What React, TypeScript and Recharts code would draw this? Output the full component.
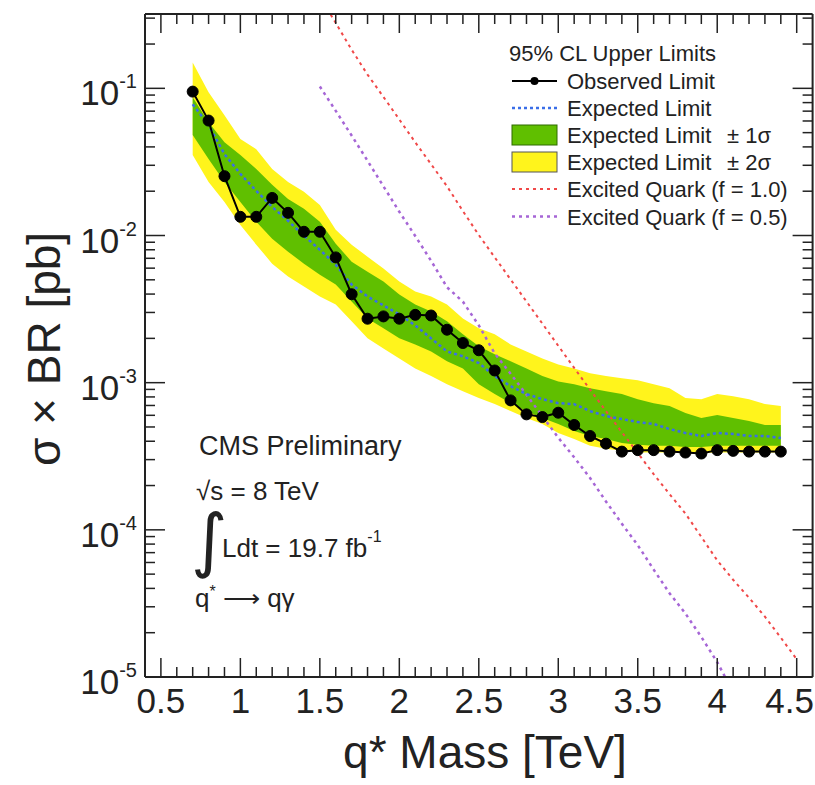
import { Area, ComposedChart, Line, XAxis, YAxis } from "recharts";

// q* mass points (TeV) for the limit curves
const massPoints = [
  0.7, 0.8, 0.9, 1.0, 1.1, 1.2, 1.3, 1.4, 1.5, 1.6, 1.7, 1.8, 1.9, 2.0, 2.1, 2.2, 2.3, 2.4, 2.5,
  2.6, 2.7, 2.8, 2.9, 3.0, 3.1, 3.2, 3.3, 3.4, 3.5, 3.6, 3.7, 3.8, 3.9, 4.0, 4.1, 4.2, 4.3, 4.4,
];
const observed = [
  0.095, 0.0604, 0.0253, 0.0134, 0.0134, 0.018, 0.01426, 0.0106, 0.0106, 0.0071, 0.00399, 0.00272,
  0.00282, 0.00272, 0.00289, 0.00286, 0.00229, 0.00186, 0.00166, 0.00121, 0.000758, 0.000609,
  0.000584, 0.000625, 0.000516, 0.000434, 0.000385, 0.00034, 0.000348, 0.000348, 0.00034, 0.000335,
  0.00033, 0.000348, 0.000344, 0.00034, 0.00034, 0.00034,
];
const expected = [
  0.0779, 0.0562, 0.0357, 0.0262, 0.0201, 0.01565, 0.0126, 0.00996, 0.008, 0.00634, 0.00464, 0.00385,
  0.00335, 0.00291, 0.00245, 0.002, 0.00163, 0.00151, 0.00136, 0.00111, 0.000947, 0.000836, 0.000773,
  0.000726, 0.000715, 0.000641, 0.000593, 0.000566, 0.00054, 0.000524, 0.000484, 0.000455, 0.000434,
  0.000455, 0.000448, 0.000434, 0.000434, 0.000421,
];
const oneSigmaUp = [
  0.0869, 0.0589, 0.0431, 0.0352, 0.0283, 0.0221, 0.0177, 0.0152, 0.0124, 0.0088, 0.00664, 0.00568,
  0.00486, 0.00397, 0.0034, 0.00305, 0.00261, 0.00213, 0.00177, 0.00156, 0.0014, 0.00125, 0.00111,
  0.00102, 0.000977, 0.000918, 0.000876, 0.000836, 0.000773, 0.000726, 0.000693, 0.000622, 0.000575,
  0.000603, 0.000575, 0.000549, 0.000516, 0.000516,
];
const oneSigmaDown = [
  0.0481, 0.0331, 0.0231, 0.0169, 0.0124, 0.0095, 0.00776, 0.00644, 0.00542, 0.00464, 0.00356, 0.00273,
  0.00234, 0.002, 0.00182, 0.00163, 0.0014, 0.00125, 0.000977, 0.000836, 0.000726, 0.000641, 0.000575,
  0.000524, 0.00047, 0.000434, 0.000414, 0.000389, 0.000378, 0.000372, 0.000372, 0.000366, 0.000366,
  0.000372, 0.000372, 0.000372, 0.000372, 0.000372,
];
const twoSigmaUp = [
  0.15, 0.094, 0.0657, 0.0452, 0.0386, 0.0283, 0.0231, 0.0198, 0.0161, 0.01094, 0.00866, 0.00718,
  0.00596, 0.00486, 0.00416, 0.00385, 0.0034, 0.00273, 0.00234, 0.00213, 0.00182, 0.00163, 0.00146,
  0.00133, 0.00125, 0.00116, 0.00111, 0.00107, 0.00104, 0.000977, 0.000918, 0.000786, 0.000773,
  0.000836, 0.00081, 0.000773, 0.000715, 0.000693,
];
const twoSigmaDown = [
  0.0352, 0.0231, 0.0169, 0.0118, 0.00866, 0.00644, 0.00526, 0.0045, 0.00385, 0.0034, 0.00261, 0.002,
  0.00171, 0.00146, 0.00125, 0.00111, 0.000977, 0.000876, 0.000786, 0.000715, 0.000641, 0.000575,
  0.000524, 0.000455, 0.000414, 0.000372, 0.000355, 0.000344, 0.000336, 0.000336, 0.000336, 0.000333,
  0.000333, 0.000336, 0.000336, 0.000336, 0.000336, 0.000336,
];

// excited quark theory curves
const theoryMassF10 = [
  1.5, 1.6, 1.7, 1.8, 1.9, 2.0, 2.1, 2.2, 2.3, 2.4, 2.5, 2.6, 2.7, 2.8, 2.9, 3.0, 3.1, 3.2, 3.3, 3.4,
  3.5, 3.6, 3.7, 3.8, 3.9, 4.0, 4.1, 4.2, 4.3, 4.4, 4.5,
];
const theoryF10 = [
  0.42, 0.278, 0.183, 0.124, 0.0875, 0.0614, 0.043, 0.0305, 0.0216, 0.01466, 0.01007, 0.00711, 0.00503,
  0.00356, 0.00252, 0.00178, 0.00126, 0.000897, 0.000641, 0.000461, 0.000333, 0.000239, 0.000175,
  0.000129, 0.0000895, 0.000062, 0.0000458, 0.0000346, 0.0000257, 0.0000185, 0.0000132,
];
const theoryMassF05 = [
  1.5, 1.6, 1.7, 1.8, 1.9, 2.0, 2.1, 2.2, 2.3, 2.4, 2.5, 2.6, 2.7, 2.8, 2.9, 3.0, 3.1, 3.2, 3.3, 3.4,
  3.5, 3.6, 3.7, 3.8, 3.9, 4.0, 4.1,
];
const theoryF05 = [
  0.103, 0.0703, 0.0478, 0.0322, 0.0216, 0.0145, 0.00993, 0.00673, 0.00445, 0.00355, 0.00245, 0.00158,
  0.00115, 0.000828, 0.000592, 0.000423, 0.000311, 0.000225, 0.000156, 0.00011, 0.0000787, 0.0000537,
  0.0000371, 0.000027, 0.0000187, 0.0000126, 0.0000079,
];

// axis ticks
const xTicks = [
  0.5, 0.6, 0.7, 0.8, 0.9, 1.0, 1.1, 1.2, 1.3, 1.4, 1.5, 1.6, 1.7, 1.8, 1.9, 2.0, 2.1, 2.2, 2.3, 2.4,
  2.5, 2.6, 2.7, 2.8, 2.9, 3.0, 3.1, 3.2, 3.3, 3.4, 3.5, 3.6, 3.7, 3.8, 3.9, 4.0, 4.1, 4.2, 4.3, 4.4, 4.5,
];
const yTicks = [
  1e-5, 2e-5, 3e-5, 4e-5, 5e-5, 6e-5, 7e-5, 8e-5, 9e-5,
  1e-4, 2e-4, 3e-4, 4e-4, 5e-4, 6e-4, 7e-4, 8e-4, 9e-4,
  1e-3, 2e-3, 3e-3, 4e-3, 5e-3, 6e-3, 7e-3, 8e-3, 9e-3,
  1e-2, 2e-2, 3e-2, 4e-2, 5e-2, 6e-2, 7e-2, 8e-2, 9e-2,
  1e-1, 2e-1, 3e-1,
];

const limitRows = massPoints.map((m, i) => ({
  mass: m,
  observed: observed[i],
  expected: expected[i],
  band1: [oneSigmaDown[i], oneSigmaUp[i]],
  band2: [twoSigmaDown[i], twoSigmaUp[i]],
}));
const f10Rows = theoryMassF10.map((m, i) => ({ mass: m, xs: theoryF10[i] }));
const f05Rows = theoryMassF05.map((m, i) => ({ mass: m, xs: theoryF05[i] }));

const FONT = "'Liberation Sans', Arial, Helvetica, sans-serif";
const FRAME = "#222";
const TEXT = "#222";

const isHalf = (v: number) => Math.abs(v * 2 - Math.round(v * 2)) < 1e-6;
const decadeOf = (v: number) => {
  const e = Math.round(Math.log10(v));
  return Math.abs(v - Math.pow(10, e)) / v < 1e-6 ? e : null;
};

function BottomTick(props: any) {
  const { x, y, payload } = props;
  const major = isHalf(payload.value);
  // last label would run past the page edge, keep it inside
  const last = payload.value >= 4.5;
  return (
    <g>
      <line x1={x} x2={x} y1={y} y2={y - (major ? 19 : 10)} stroke={FRAME} strokeWidth={1.5} />
      {major && (
        <text
          x={last ? 814 : x}
          y={y + 36}
          textAnchor={last ? "end" : "middle"}
          fontSize={35}
          fontFamily={FONT}
          fill={TEXT}
        >
          {String(payload.value)}
        </text>
      )}
    </g>
  );
}

function TopTick(props: any) {
  const { x, y, payload } = props;
  const major = isHalf(payload.value);
  return <line x1={x} x2={x} y1={y} y2={y + (major ? 19 : 10)} stroke={FRAME} strokeWidth={1.5} />;
}

function LeftTick(props: any) {
  const { x, y, payload } = props;
  const exp = decadeOf(payload.value);
  return (
    <g>
      <line x1={x} x2={x + (exp !== null ? 20 : 10)} y1={y} y2={y} stroke={FRAME} strokeWidth={1.5} />
      {exp !== null && (
        <text x={x - 8} y={y + 17} textAnchor="end" fontFamily={FONT} fill={TEXT} fontSize={35}>
          <tspan>10</tspan>
          <tspan dy={-17} fontSize={20}>
            {String(exp)}
          </tspan>
        </text>
      )}
    </g>
  );
}

function RightTick(props: any) {
  const { x, y, payload } = props;
  const exp = decadeOf(payload.value);
  return <line x1={x} x2={x - (exp !== null ? 20 : 10)} y1={y} y2={y} stroke={FRAME} strokeWidth={1.5} />;
}

function Overlay() {
  const lx1 = 512;
  const lx2 = 557;
  const tx = 567;
  const rows = [81, 108, 135, 162, 189, 216.5];
  return (
    <svg
      width={815}
      height={785}
      style={{ position: "absolute", left: 0, top: 0, pointerEvents: "none" }}
      fontFamily={FONT}
      fill={TEXT}
    >
      {/* legend */}
      <text x={509} y={61} fontSize={22}>95% CL Upper Limits</text>
      <line x1={lx1} x2={lx2} y1={rows[0]} y2={rows[0]} stroke="#000" strokeWidth={2} />
      <circle cx={(lx1 + lx2) / 2} cy={rows[0]} r={4} fill="#000" />
      <text x={tx} y={rows[0] + 8} fontSize={22}>Observed Limit</text>
      <line x1={lx1} x2={lx2} y1={rows[1]} y2={rows[1]} stroke="#3a6ee8" strokeWidth={2.5} strokeDasharray="3 3" />
      <text x={tx} y={rows[1] + 8} fontSize={22}>Expected Limit</text>
      <rect x={lx1} y={rows[2] - 10} width={lx2 - lx1} height={20} fill="#60bf00" stroke="#2f6a00" strokeWidth={1} />
      <text x={tx} y={rows[2] + 8} fontSize={22}>Expected Limit</text>
      <text x={727} y={rows[2] + 8} fontSize={22}>± 1σ</text>
      <rect x={lx1} y={rows[3] - 10} width={lx2 - lx1} height={20} fill="#fff41c" stroke="#555" strokeWidth={1} />
      <text x={tx} y={rows[3] + 8} fontSize={22}>Expected Limit</text>
      <text x={727} y={rows[3] + 8} fontSize={22}>± 2σ</text>
      <line x1={lx1} x2={lx2} y1={rows[4]} y2={rows[4]} stroke="#f04848" strokeWidth={2} strokeDasharray="3 4" />
      <text x={tx} y={rows[4] + 8} fontSize={22}>Excited Quark (f = 1.0)</text>
      <line x1={lx1} x2={lx2} y1={rows[5]} y2={rows[5]} stroke="#a666d6" strokeWidth={2.5} strokeDasharray="3 4" />
      <text x={tx} y={rows[5] + 8} fontSize={22}>Excited Quark (f = 0.5)</text>

      {/* annotations */}
      <text x={199} y={455} fontSize={27}>CMS Preliminary</text>
      <text x={196} y={500} fontSize={26}>√s = 8 TeV</text>
      <text x={191} y={564} fontSize={70} fontFamily="'DejaVu Sans', sans-serif">∫</text>
      <text x={222} y={557} fontSize={26}>
        <tspan>Ldt = 19.7 fb</tspan>
        <tspan dy={-15} fontSize={16}>-1</tspan>
      </text>
      <text x={195} y={607} fontSize={26}>
        <tspan>q</tspan>
        <tspan dy={-10} fontSize={16}>*</tspan>
        <tspan dy={10}> ⟶ qγ</tspan>
      </text>

      {/* axis titles */}
      <text x={485} y={768} fontSize={46} textAnchor="middle">q* Mass [TeV]</text>
      <text x={60} y={349} fontSize={46} textAnchor="middle" transform="rotate(-90 60 349)">
        σ × BR [pb]
      </text>
    </svg>
  );
}

export default function App() {
  return (
    <div style={{ position: "absolute", left: 0, top: 0, width: 815, height: 785, background: "#fff", overflow: "hidden" }}>
      <ComposedChart
        width={815}
        height={785}
        data={limitRows}
        margin={{ top: 13, right: 1, bottom: 0, left: 0 }}
      >
        <XAxis
          dataKey="mass"
          type="number"
          domain={[0.4, 4.6]}
          allowDataOverflow
          ticks={xTicks}
          interval={0}
          height={108}
          tickSize={0}
          tickMargin={0}
          tick={<BottomTick />}
          axisLine={{ stroke: FRAME, strokeWidth: 2 }}
        />
        <XAxis
          xAxisId="top"
          orientation="top"
          dataKey="mass"
          type="number"
          domain={[0.4, 4.6]}
          allowDataOverflow
          ticks={xTicks}
          interval={0}
          height={1}
          tickSize={0}
          tickMargin={0}
          tick={<TopTick />}
          axisLine={{ stroke: FRAME, strokeWidth: 2 }}
        />
        <YAxis
          type="number"
          scale="log"
          domain={[1e-5, 0.32]}
          allowDataOverflow
          ticks={yTicks}
          interval={0}
          width={145}
          tickSize={0}
          tickMargin={0}
          tick={<LeftTick />}
          axisLine={{ stroke: FRAME, strokeWidth: 2 }}
        />
        <YAxis
          yAxisId="right"
          orientation="right"
          type="number"
          scale="log"
          domain={[1e-5, 0.32]}
          allowDataOverflow
          ticks={yTicks}
          interval={0}
          width={1.4}
          tickSize={0}
          tickMargin={0}
          tick={<RightTick />}
          axisLine={{ stroke: FRAME, strokeWidth: 2 }}
        />
        <Area
          dataKey="band2"
          type="linear"
          fill="#fff41c"
          fillOpacity={1}
          stroke="none"
          isAnimationActive={false}
          dot={false}
          activeDot={false}
        />
        <Area
          dataKey="band1"
          type="linear"
          fill="#60bf00"
          fillOpacity={1}
          stroke="none"
          isAnimationActive={false}
          dot={false}
          activeDot={false}
        />
        <Line
          data={f10Rows}
          dataKey="xs"
          type="linear"
          stroke="#f04848"
          strokeWidth={2}
          strokeDasharray="3 4"
          dot={false}
          activeDot={false}
          isAnimationActive={false}
        />
        <Line
          data={f05Rows}
          dataKey="xs"
          type="linear"
          stroke="#a666d6"
          strokeWidth={2.5}
          strokeDasharray="3 4"
          dot={false}
          activeDot={false}
          isAnimationActive={false}
        />
        <Line
          dataKey="expected"
          type="linear"
          stroke="#3a6ee8"
          strokeWidth={2.5}
          strokeDasharray="3 3"
          dot={false}
          activeDot={false}
          isAnimationActive={false}
        />
        <Line
          dataKey="observed"
          type="linear"
          stroke="#000"
          strokeWidth={2}
          dot={{ r: 5.5, fill: "#000", stroke: "#000", strokeWidth: 1 }}
          activeDot={false}
          isAnimationActive={false}
        />
      </ComposedChart>
      <Overlay />
    </div>
  );
}
